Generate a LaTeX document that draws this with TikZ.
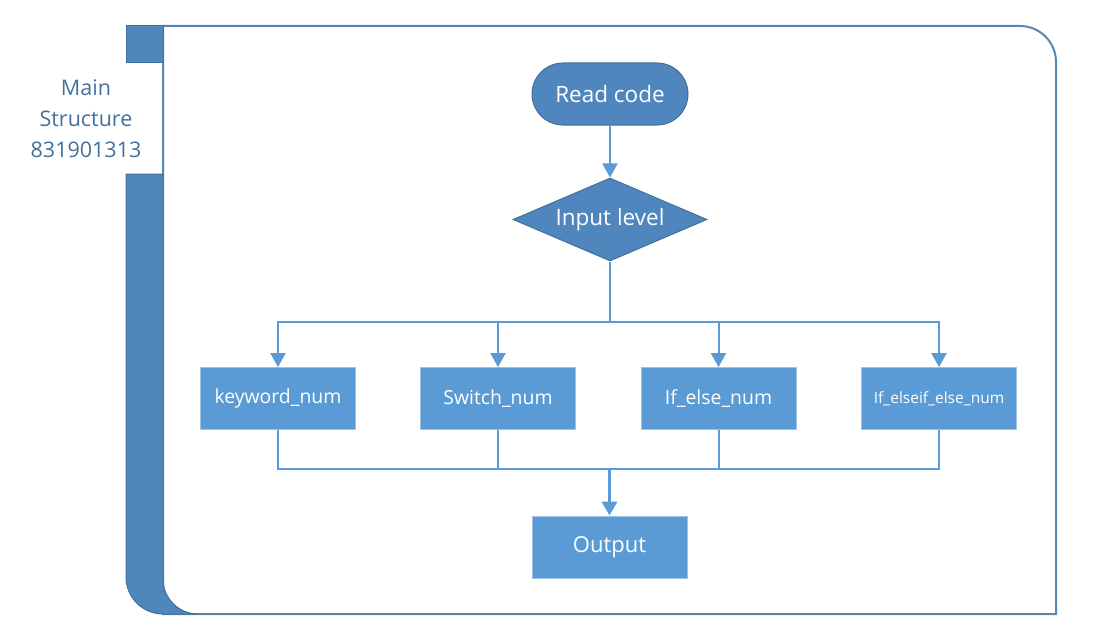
\documentclass[tikz,border=0pt]{standalone}
\usepackage{fontspec}
\setmainfont{Open Sans}
\usetikzlibrary{arrows.meta,shapes.geometric}
\definecolor{dkfill}{HTML}{4E86BD}
\definecolor{dkline}{HTML}{41719C}
\definecolor{pfill}{HTML}{5B9BD5}
\definecolor{pline}{HTML}{9DC3E6}
\definecolor{conn}{HTML}{5B9BD5}
\definecolor{frame}{HTML}{5A87AD}
\definecolor{barfill}{HTML}{4F87BB}
\definecolor{lbltext}{HTML}{41719C}
\tikzset{
  startbox/.style={draw=dkline, fill=dkfill, line width=1pt, rounded corners=31pt,
    minimum width=156pt, minimum height=62pt, inner sep=0pt, text=white,
    font=\fontsize{22.5}{26}\selectfont},
  decbox/.style={diamond, draw=dkline, fill=dkfill, line width=1pt, aspect=2.34,
    minimum width=194pt, minimum height=83pt, inner sep=0pt, text=white,
    font=\fontsize{22.5}{26}\selectfont},
  procbox/.style={draw=pline, fill=pfill, line width=0.8pt,
    minimum width=155pt, minimum height=62pt, inner sep=0pt, text=white,
    font=\fontsize{19.4}{23}\selectfont},
  conline/.style={draw=conn, line width=2pt},
  arr/.style={conline, -{Triangle[width=15pt,length=14pt]}},
  frameline/.style={draw=frame, line width=2pt},
  barshape/.style={fill=barfill, draw=dkline, line width=1pt},
}
\begin{document}
\begin{tikzpicture}[x=1pt,y=-1pt]
\useasboundingbox (0,0) rectangle (1104,634);
% frame
\path[frameline] (163,26) -- (1020,26) .. controls (1039.9,26) and (1056,42.1) .. (1056,62)
  -- (1056,614) -- (163,614) -- cycle;
% left bar
\path[barshape] (126,26) rectangle (163,63);
\path[barshape] (126,174) -- (163,174) -- (163,579)
  .. controls (163,598.3) and (178.7,614) .. (198,614)
  -- (163,614) .. controls (142.6,614) and (126,597.4) .. (126,577) -- cycle;
\node[text=lbltext, align=center, font=\fontsize{21.5}{31}\selectfont] (title) at (86,119)
  {Main\\Structure\\831901313};
% nodes
\node[startbox] (read) at (610,94) {Read code};
\node[decbox] (dia) at (610,219.5) {Input level};
\node[procbox] (kw) at (278,398.5) {keyword\_num};
\node[procbox] (sw) at (498,398.5) {Switch\_num};
\node[procbox] (ie) at (718.5,398.5) {If\_else\_num};
\node[procbox, font=\fontsize{15.5}{19}\selectfont] (iee) at (939,398.5) {If\_elseif\_else\_num};
\node[procbox, font=\fontsize{22}{26}\selectfont] (out) at (609.5,547) {Output};
\coordinate (br) at (610,321.5);
\coordinate (mg) at (609.5,469);
% connectors
\draw[arr] (read) -- (dia);
\draw[conline] (dia.south) -- (br);
\draw[arr] (br) -| (kw.north);
\draw[arr] (br) -| (sw.north);
\draw[arr] (br) -| (ie.north);
\draw[arr] (br) -| (iee.north);
\draw[conline] (kw.south) |- (mg);
\draw[conline] (sw.south) |- (mg);
\draw[conline] (ie.south) |- (mg);
\draw[conline] (iee.south) |- (mg);
\draw[arr, line width=3pt] (mg) -- (out.north);
\end{tikzpicture}
\end{document}
